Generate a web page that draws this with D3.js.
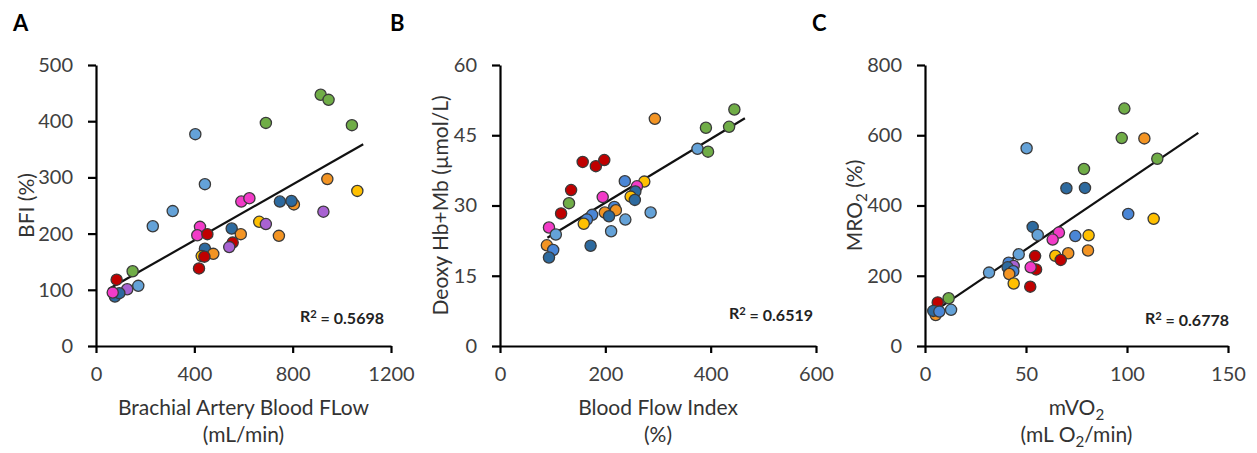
<!DOCTYPE html>
<html>
<head>
<meta charset="utf-8">
<script src="https://cdn.jsdelivr.net/npm/d3@7/dist/d3.min.js"></script>
<style>
  html, body { margin: 0; padding: 0; background: #fff; }
  svg { display: block; font-family: Lato, "Open Sans", sans-serif; }
  .tick text { fill: #404040; }
</style>
</head>
<body>
<svg id="chart" width="1257" height="453"></svg>
<script>
// Subject colour keys
const groupColors = {
  g: "#70AD47", // green
  l: "#64A2D8", // light blue
  d: "#2D6A9F", // dark blue
  b: "#4A86D6", // blue
  r: "#C00000", // red
  p: "#F23BC8", // pink
  v: "#A862D2", // violet
  o: "#F39423", // orange
  y: "#FFC000"  // yellow
};

// Panel A: brachial artery blood flow (mL/min) vs BFI (%)
const aX = [914, 946, 691, 1041, 404, 443, 941, 1063, 591, 624, 748, 805, 795, 312, 925, 231, 423, 412, 453, 552, 589, 664, 691, 744, 556, 542, 453, 443, 477, 430, 441, 419, 149, 84, 172, 127, 77, 95, 68];
const aY = [447, 438, 397, 393, 377, 288, 297, 276, 257, 263, 257, 252, 258, 240, 239, 213, 212, 197, 199, 209, 199, 221, 217, 196, 184, 176, 166, 173, 164, 160, 159, 138, 133, 118, 107, 101, 88, 94, 95];
const aGroup = ["g","g","g","g","l","l","o","y","p","p","d","o","d","l","v","l","p","p","r","d","o","y","v","o","r","v","v","d","o","y","r","r","g","r","l","v","d","d","p"];

// Panel B: blood flow index (%) vs deoxy Hb+Mb (µmol/L)
const bX = [445, 294, 391, 435, 375, 395, 157, 182, 198, 237, 274, 260, 257, 135, 195, 248, 256, 131, 116, 217, 220, 199, 207, 286, 238, 175, 165, 159, 211, 93, 106, 172, 89, 101, 93];
const bY = [50.5, 48.5, 46.6, 46.8, 42.1, 41.5, 39.3, 38.4, 39.7, 35.2, 35.1, 34.1, 33.0, 33.3, 31.8, 31.9, 31.2, 30.5, 28.3, 29.7, 29.0, 28.5, 27.7, 28.5, 27.0, 28.0, 27.0, 26.1, 24.5, 25.3, 23.8, 21.4, 21.5, 20.5, 18.9];
const bGroup = ["g","o","g","g","l","g","r","r","r","b","y","p","d","r","p","y","d","g","r","b","o","o","d","l","l","b","b","y","l","p","l","d","o","b","d"];

// Panel C: mVO2 (mL O2/min) vs MRO2 (%)
const cX = [98.7, 97.4, 108.6, 50.3, 115, 78.7, 70, 79.2, 100.6, 113.2, 53.3, 55.8, 66.3, 63.2, 74.4, 81, 80.7, 70.9, 64.5, 67.2, 54.5, 55, 52.3, 46.4, 41.4, 43.9, 40.9, 43.7, 41.7, 31.7, 43.9, 52.1, 11.7, 6.3, 12.9, 5.3, 4.1, 7.1];
const cY = [676, 592, 591, 563, 533, 504, 449, 450, 376, 362, 339, 316, 323, 303, 313, 315, 272, 264, 257, 245, 256, 218, 224, 261, 237, 228, 224, 213, 205, 209, 178, 169, 136, 124, 103, 88, 100, 98];
const cGroup = ["g","g","o","l","g","g","d","d","b","y","d","l","p","p","b","y","o","o","y","r","r","r","p","l","b","v","d","b","o","l","y","r","g","r","l","o","d","b"];

// Linear trendlines: [slope, intercept, xStart, xEnd]
const aTrend = [0.2488, 88.4, 50, 1087];
const bTrend = [0.068, 17.0, 90, 465];
const cTrend = [3.889, 80.8, 3.6, 135.3];

// Axis ticks
const aXTicks = [0, 400, 800, 1200];
const aYTicks = [0, 100, 200, 300, 400, 500];
const bXTicks = [0, 200, 400, 600];
const bYTicks = [0, 15, 30, 45, 60];
const cXTicks = [0, 50, 100, 150];
const cYTicks = [0, 200, 400, 600, 800];

const rSquared = ["0.5698", "0.6519", "0.6778"];
const panelLetters = ["A", "B", "C"];

const svg = d3.select("#chart");

const panels = [
  { letter: panelLetters[0], letterX: 13, xs: aX, ys: aY, groups: aGroup, trend: aTrend,
    xDomain: [0, 1200], yDomain: [0, 500], xTicks: aXTicks, yTicks: aYTicks,
    left: 96, right: 391, r2: rSquared[0], r2X: 384, r2Y: 322,
    yTitle: [["BFI (%)", null]], yTitleX: 34,
    xTitle1: [["Brachial Artery Blood FLow", null]], xTitle2: [["(mL/min)", null]] },
  { letter: panelLetters[1], letterX: 390, xs: bX, ys: bY, groups: bGroup, trend: bTrend,
    xDomain: [0, 600], yDomain: [0, 60], xTicks: bXTicks, yTicks: bYTicks,
    left: 500, right: 816, r2: rSquared[1], r2X: 813, r2Y: 319,
    yTitle: [["Deoxy Hb+Mb (µmol/L)", null]], yTitleX: 448,
    xTitle1: [["Blood Flow Index", null]], xTitle2: [["(%)", null]] },
  { letter: panelLetters[2], letterX: 812, xs: cX, ys: cY, groups: cGroup, trend: cTrend,
    xDomain: [0, 150], yDomain: [0, 800], xTicks: cXTicks, yTicks: cYTicks,
    left: 925, right: 1228, r2: rSquared[2], r2X: 1229, r2Y: 324,
    yTitle: [["MRO", null], ["2", "sub"], [" (%)", null]], yTitleX: 862,
    xTitle1: [["mVO", null], ["2", "sub"]], xTitle2: [["(mL O", null], ["2", "sub"], ["/min)", null]] }
];

const plotTop = 65, plotBottom = 346;

// Writes text pieces, lowering the ones marked as subscripts
function addPieces(textSel, pieces) {
  pieces.forEach(([str, kind], i) => {
    const t = textSel.append("tspan").text(str);
    if (kind === "sub") {
      t.attr("dy", "0.3em").style("font-size", "0.72em");
    } else if (i > 0 && pieces[i - 1][1] === "sub") {
      t.attr("dy", "-0.22em");
    }
  });
}

panels.forEach(p => {
  const x = d3.scaleLinear().domain(p.xDomain).range([p.left, p.right]);
  const y = d3.scaleLinear().domain(p.yDomain).range([plotBottom, plotTop]);
  const g = svg.append("g");

  // Axes
  const xAxis = d3.axisBottom(x).tickValues(p.xTicks).tickFormat(d3.format("d"))
    .tickSize(7).tickSizeOuter(0).tickPadding(14);
  const yAxis = d3.axisLeft(y).tickValues(p.yTicks).tickFormat(d3.format("d"))
    .tickSize(8).tickSizeOuter(0).tickPadding(15);

  const gx = g.append("g").attr("transform", `translate(0,${plotBottom})`).call(xAxis);
  const gy = g.append("g").attr("transform", `translate(${p.left},0)`).call(yAxis);
  [gx, gy].forEach(a => {
    a.selectAll("path.domain").attr("stroke", "#000").attr("stroke-width", 2.2);
    a.selectAll(".tick line").attr("stroke", "#000").attr("stroke-width", 2.2);
    a.selectAll(".tick text").style("font-size", "20px").style("font-family", "Lato, sans-serif");
  });

  // Trendline
  const [slope, intercept, x0, x1] = p.trend;
  g.append("line")
    .attr("x1", x(x0)).attr("y1", y(slope * x0 + intercept))
    .attr("x2", x(x1)).attr("y2", y(slope * x1 + intercept))
    .attr("stroke", "#111").attr("stroke-width", 2.2);

  // Points
  g.append("g").selectAll("circle")
    .data(p.xs.map((v, i) => ({ x: v, y: p.ys[i], grp: p.groups[i] })))
    .join("circle")
    .attr("cx", d => x(d.x))
    .attr("cy", d => y(d.y))
    .attr("r", 5.6)
    .attr("fill", d => groupColors[d.grp])
    .attr("stroke", "#3a3a3a")
    .attr("stroke-width", 1.3);

  // R² annotation
  const r2 = g.append("text")
    .attr("x", p.r2X).attr("y", p.r2Y)
    .attr("text-anchor", "end")
    .attr("fill", "#222")
    .style("font-size", "16px").style("font-weight", "bold");
  r2.append("tspan").text("R");
  r2.append("tspan").text("2").attr("dy", "-0.4em").style("font-size", "0.7em");
  r2.append("tspan").text(" = " + p.r2).attr("dy", "0.4em");

  // Axis titles
  const mid = (p.left + p.right) / 2;
  const t1 = g.append("text").attr("x", mid).attr("y", 415).attr("text-anchor", "middle")
    .attr("fill", "#333").style("font-size", "21px");
  addPieces(t1, p.xTitle1);
  const t2 = g.append("text").attr("x", mid).attr("y", 442).attr("text-anchor", "middle")
    .attr("fill", "#333").style("font-size", "21px");
  addPieces(t2, p.xTitle2);

  const yt = g.append("text")
    .attr("transform", `translate(${p.yTitleX},${(plotTop + plotBottom) / 2}) rotate(-90)`)
    .attr("text-anchor", "middle")
    .attr("fill", "#333").style("font-size", "21px");
  addPieces(yt, p.yTitle);

  // Panel letter
  g.append("text").attr("x", p.letterX).attr("y", 31)
    .attr("fill", "#000").style("font-size", "22px").style("font-weight", "bold")
    .text(p.letter);
});
</script>
</body>
</html>
